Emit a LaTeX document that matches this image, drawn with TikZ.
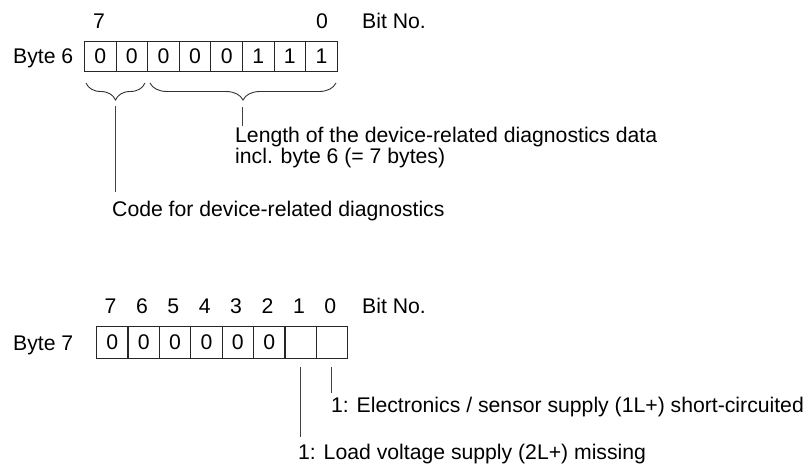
\documentclass[tikz,border=0pt]{standalone}
\usepackage{fontspec}
\setmainfont{Liberation Sans}
\usetikzlibrary{positioning,decorations.pathreplacing}

\begin{document}
\begin{tikzpicture}[x=1pt, y=-1pt,
  txt/.style={font=\fontsize{21.2}{24}\selectfont, inner sep=0pt},
  bitcell/.style={draw=black!85, line width=0.9pt, inner sep=0pt, anchor=north west,
    minimum width=31.6pt, font=\fontsize{21.2}{24}\selectfont},
  lead/.style={draw=black!75, line width=0.9pt},
  grp/.style={draw=black!80, line width=0.9pt, decorate,
    decoration={brace, mirror, amplitude=17pt}}]
  \useasboundingbox (0,0) rectangle (805,474);
  % byte 6
  \node[txt, anchor=base west] (b6name) at (13,63) {Byte 6};
  \foreach \v [count=\i from 0] in {0,0,0,0,0,1,1,1}
    \node[bitcell, minimum height=30pt] (b6c\i) at (84+31.6*\i,41) {\v};
  \node[txt, anchor=base] (b6hi) at (99,28) {7};
  \node[txt, anchor=base] (b6lo) at (322,28) {0};
  \node[txt, anchor=base west] (b6bitno) at (362,28) {Bit No.};
  \coordinate (brA0) at (86,83);
  \coordinate (brA1) at (145,83);
  \coordinate (brB0) at (150,83);
  \coordinate (brB1) at (336,83);
  \draw[grp] (brA0) -- (brA1);
  \draw[grp] (brB0) -- (brB1);
  \node[txt, anchor=base west] (lentxt) at (235,142.5) {Length of the device-related diagnostics data};
  \node[txt, anchor=base west] (lentxtb) at (235,163) {incl. byte 6 (= 7 bytes)};
  \node[txt, anchor=base west] (codetxt) at (112,216) {Code for device-related diagnostics};
  \coordinate (codetop) at (115.5,106);
  \coordinate (codebot) at (115.5,192);
  \coordinate (lentop) at (242.5,107);
  \coordinate (lenbot) at (242.5,126);
  \draw[lead] (codetop) -- (codebot);
  \draw[lead] (lentop) -- (lenbot);
  % byte 7
  \node[txt, anchor=base west] (b7name) at (13,350) {Byte 7};
  \foreach \v [count=\i from 0] in {0,0,0,0,0,0,{},{}}
    \node[bitcell, minimum height=32pt] (b7c\i) at (96+31.4*\i,326) {\v};
  \foreach \i [evaluate=\i as \n using int(7-\i)] in {0,...,7}
    \node[txt, anchor=base] (b7n\i) at (110.5+31.4*\i,313) {\n};
  \node[txt, anchor=base west] (b7bitno) at (362,313) {Bit No.};
  \coordinate (e0top) at (331.5,367);
  \coordinate (e0bot) at (331.5,393);
  \coordinate (e1top) at (300.1,367);
  \coordinate (e1bot) at (300.1,437);
  \draw[lead] (e0top) -- (e0bot);
  \draw[lead] (e1top) -- (e1bot);
  \node[txt, anchor=base west] (elecsc) at (331,412) {1: Electronics / sensor supply (1L+) short-circuited};
  \node[txt, anchor=base west] (loadms) at (298,459) {1: Load voltage supply (2L+) missing};
\end{tikzpicture}
\end{document}
